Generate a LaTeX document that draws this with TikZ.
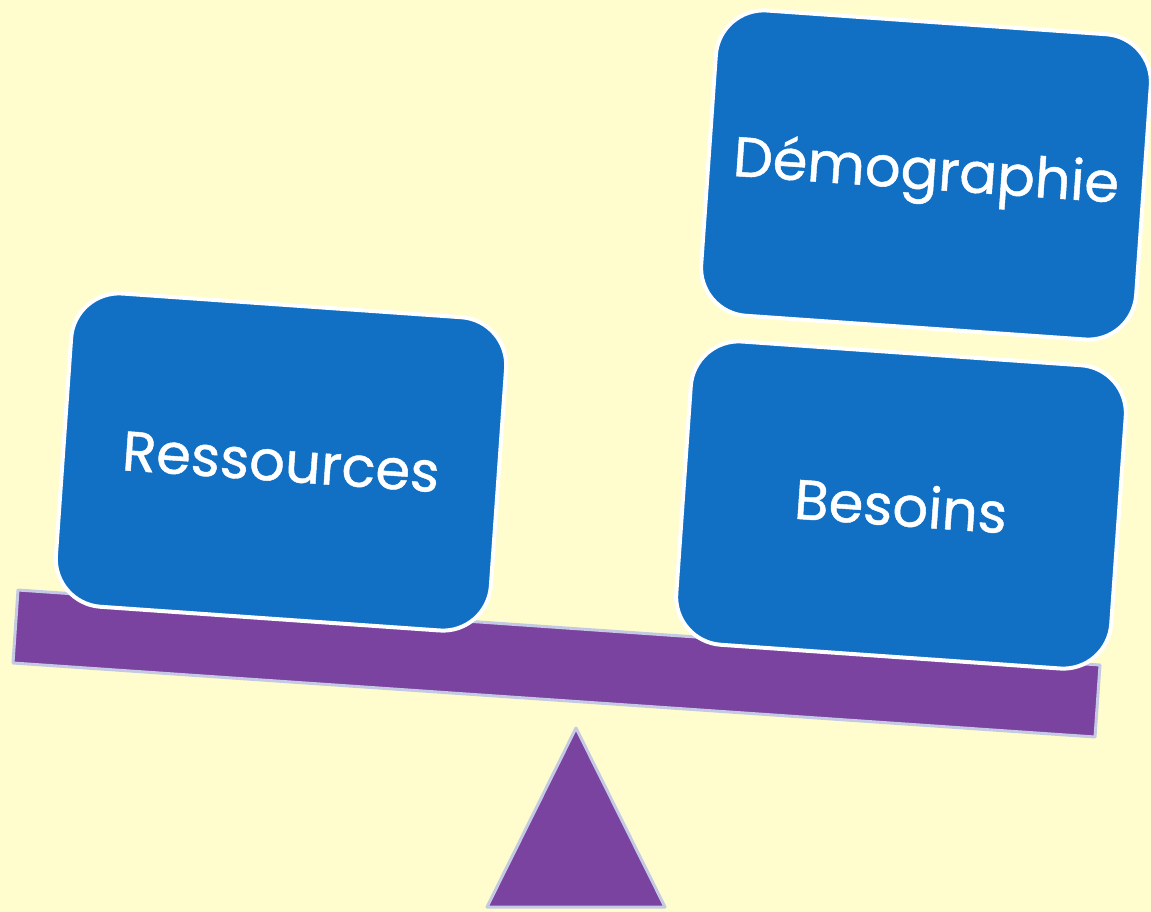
\documentclass[tikz,border=0pt]{standalone}
\usepackage{fontspec}
\setmainfont{Poppins}[FakeBold=0.8]
\definecolor{bgyellow}{HTML}{FFFDCD}
\definecolor{boxblue}{HTML}{1170C4}
\definecolor{beampurple}{HTML}{7B43A0}
\definecolor{rimgrey}{HTML}{C5C9E4}
\begin{document}
\begin{tikzpicture}[x=1pt,y=-1pt,
  weight/.style={rectangle, rounded corners=48pt, fill=boxblue, draw=white,
    line width=4pt, minimum width=436pt, rotate=-4,
    text=white, font=\fontsize{56}{60}\selectfont},
  scaleparts/.style={fill=beampurple, draw=rimgrey, line width=3pt, line join=round}]
  % backdrop
  \fill[bgyellow] (0,0) rectangle (1151,912);
  \useasboundingbox (0,0) rectangle (1151,912);
  % tilted beam
  \coordinate (b1) at (18,590);
  \coordinate (b2) at (1100,665);
  \coordinate (b3) at (1095,737);
  \coordinate (b4) at (13,663);
  \filldraw[scaleparts] (b1) -- (b2) -- (b3) -- (b4) -- cycle;
  % fulcrum
  \coordinate (f1) at (576,728);
  \coordinate (f2) at (665,907);
  \coordinate (f3) at (487,907);
  \filldraw[scaleparts] (f1) -- (f2) -- (f3) -- cycle;
  % weights on the beam
  \node[weight, minimum height=314pt] (res) at (281,462) {Ressources};
  \node[weight, minimum height=304pt] (bes) at (901,505) {Besoins};
  \node[weight, minimum height=306pt] (dem) at (926,175) {Démographie};
\end{tikzpicture}
\end{document}
